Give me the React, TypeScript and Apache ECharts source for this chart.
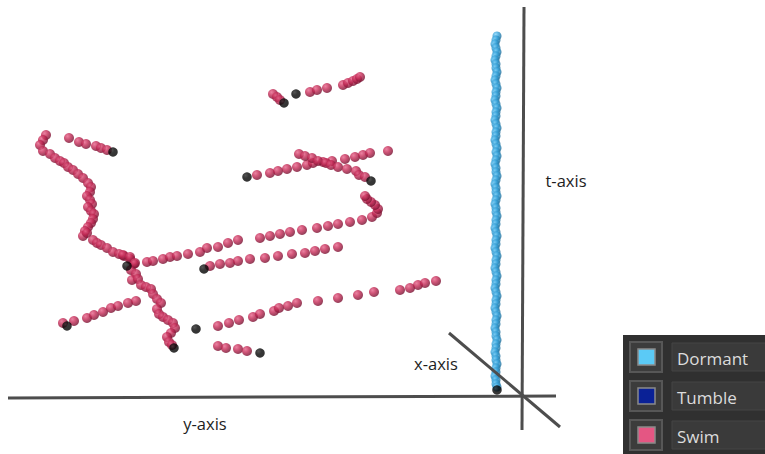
import React, { useEffect, useRef } from "react";
import * as echarts from "echarts";

// ---- data (pixel-space coordinates of the projected 3D scene) ----
const legendNames = ["Dormant", "Tumble", "Swim"];
const legendColors = ["#5bcaf6", "#0a2196", "#e45683"];

const axisNames = ["y-axis", "x-axis", "t-axis"];
const yAxisLine = [[8, 398], [556, 396]];
const tAxisLine = [[524, 7], [522, 430]];
const xAxisLine = [[449, 333], [560, 427]];

const startPoints = [
  [113, 152], [247, 177], [127, 266], [204, 269], [67, 326], [196, 329],
  [174, 348], [296, 94], [284, 103], [371, 181], [260, 353], [497, 390],
];

const swimTrackA = [[69, 138], [79, 142], [86, 144], [96, 146], [101, 148], [107, 150]];
const swimTrackB = [
  [46, 135], [43, 140], [40, 145], [43, 151], [50, 154], [55, 158], [60, 161], [64, 163],
  [68, 167], [73, 170], [78, 174], [83, 178], [88, 183], [91, 187], [90, 192], [87, 196],
  [90, 200], [92, 204], [88, 207], [91, 211], [94, 214], [93, 219], [91, 223], [88, 227],
  [85, 231], [83, 236], [87, 233], [93, 240], [97, 243], [101, 245], [107, 248], [113, 252],
  [119, 254], [124, 256], [130, 259], [134, 264], [131, 270], [136, 274], [132, 280],
  [138, 279], [141, 285], [146, 287], [151, 289], [153, 294], [157, 299], [161, 303],
  [157, 309], [159, 314], [163, 317], [168, 320], [173, 323], [175, 328], [171, 333],
  [167, 337], [169, 342], [172, 345],
];
const swimTrackC = [
  [123, 255], [130, 257], [135, 263], [147, 262], [153, 261], [163, 259], [170, 257],
  [177, 256], [188, 254], [200, 252], [207, 248], [218, 247], [228, 243], [238, 240],
  [260, 238], [270, 236], [280, 234], [290, 232], [302, 230], [317, 228], [328, 226],
  [338, 224], [350, 222], [362, 220], [372, 217], [377, 213], [378, 209], [375, 205],
  [371, 202], [367, 199], [365, 196],
];
const swimTrackD = [
  [210, 266], [220, 264], [230, 263], [238, 261], [250, 259], [265, 258], [278, 256],
  [292, 254], [305, 253], [315, 251], [325, 249], [338, 247],
];
const swimTrackE = [
  [63, 323], [74, 321], [87, 318], [94, 315], [103, 312], [111, 308], [118, 306],
  [128, 303], [136, 301],
];
const swimTrackF = [
  [218, 326], [229, 323], [239, 320], [253, 317], [260, 314], [274, 311], [279, 308],
  [288, 306], [297, 303], [318, 301], [338, 298], [358, 295], [374, 292], [400, 290],
  [410, 288], [418, 285], [425, 283], [436, 281],
];
const swimTrackG = [[218, 346], [226, 348], [238, 349], [247, 351]];
const swimTrackH = [
  [257, 175], [270, 173], [278, 171], [287, 169], [297, 167], [307, 165], [313, 163],
  [323, 162], [332, 161], [345, 159], [355, 157], [363, 155], [370, 153], [388, 151],
];
const swimTrackI = [
  [299, 154], [305, 156], [312, 158], [318, 161], [326, 163], [331, 165], [338, 167],
  [347, 169], [356, 171], [359, 175], [365, 177],
];
const swimTrackJ = [
  [273, 94], [277, 97], [280, 100], [310, 92], [317, 90], [327, 88], [343, 85],
  [348, 83], [353, 81], [357, 79], [360, 77],
];

const dormantPoints = [
  [497, 36], [496, 40], [495, 44], [496, 48], [497, 52], [496, 56], [495, 60], [496, 64],
  [496, 68], [497, 72], [496, 76], [495, 80], [496, 84], [497, 88], [496, 92], [496, 96],
  [495, 100], [496, 104], [497, 108], [496, 112], [496, 116], [495, 120], [496, 124],
  [497, 128], [496, 132], [496, 136], [495, 140], [496, 144], [497, 148], [496, 152],
  [497, 156], [496, 160], [495, 164], [496, 168], [496, 172], [497, 176], [496, 180],
  [495, 184], [496, 188], [496, 192], [497, 196], [496, 200], [495, 204], [496, 208],
  [496, 212], [497, 216], [496, 220], [496, 224], [495, 228], [496, 232], [497, 236],
  [496, 240], [496, 244], [495, 248], [496, 252], [497, 256], [496, 260], [496, 264],
  [495, 268], [496, 272], [497, 276], [496, 280], [496, 284], [495, 288], [496, 292],
  [497, 296], [496, 300], [496, 304], [495, 308], [496, 312], [497, 316], [496, 320],
  [496, 324], [495, 328], [496, 332], [496, 336], [497, 340], [496, 344], [496, 348],
  [495, 352], [496, 356], [496, 360], [497, 364], [496, 368], [496, 372], [495, 376],
  [496, 380], [496, 384], [497, 387],
];

const sphere = (light: string, mid: string, dark: string) => ({
  type: "radial",
  x: 0.35,
  y: 0.32,
  r: 0.7,
  colorStops: [
    { offset: 0, color: light },
    { offset: 0.45, color: mid },
    { offset: 1, color: dark },
  ],
});

export default function App() {
  const ref = useRef<HTMLDivElement>(null);
  useEffect(() => {
    if (!ref.current) return;
    const chart = echarts.init(ref.current, null, { renderer: "svg" });
    const swim = [
      ...swimTrackA, ...swimTrackB, ...swimTrackC, ...swimTrackD, ...swimTrackE,
      ...swimTrackF, ...swimTrackG, ...swimTrackH, ...swimTrackI, ...swimTrackJ,
    ];
    const lineStyle = { color: "#4d4d4d", width: 3 };
    const axisLineSeries = (data: number[][]) => ({
      type: "line",
      data,
      symbol: "none",
      lineStyle,
      z: 5,
      silent: true,
    });
    const rowY = [342, 381, 420];
    const legendGraphics: any[] = [
      { type: "rect", shape: { x: 623, y: 335, width: 150, height: 125 }, style: { fill: "#303030" } },
    ];
    legendNames.forEach((name, i) => {
      const y = rowY[i];
      legendGraphics.push(
        { type: "rect", shape: { x: 630, y, width: 32, height: 30 }, style: { fill: "#3c3c3c", stroke: "#575757", lineWidth: 2 } },
        { type: "rect", shape: { x: 638, y: y + 7, width: 17, height: 16 }, style: { fill: legendColors[i], stroke: "#8a8a8a", lineWidth: 1.5 } },
        { type: "rect", shape: { x: 672, y: y + 1, width: 100, height: 28 }, style: { fill: "#3a3a3a", stroke: "#454545", lineWidth: 1 } },
        { type: "text", x: 677, y: y + 16, style: { text: name, fill: "#dcdcdc", font: "17px 'Open Sans'", verticalAlign: "middle", textAlign: "left" } }
      );
    });
    const labelFont = "16.5px 'Open Sans'";
    chart.setOption({
      animation: false,
      backgroundColor: "#ffffff",
      grid: { left: 0, right: 0, top: 0, bottom: 0 },
      xAxis: { type: "value", min: 0, max: 765, show: false },
      yAxis: { type: "value", min: 0, max: 454, inverse: true, show: false },
      series: [
        {
          name: "Dormant",
          type: "scatter",
          data: dormantPoints,
          symbolSize: 9,
          itemStyle: { color: sphere("#7fd2fa", "#36a2da", "#1b6a96") },
          z: 2,
        },
        {
          name: "Swim",
          type: "scatter",
          data: swim,
          symbolSize: 10,
          itemStyle: { color: sphere("#e6648a", "#c42a56", "#760e2e") },
          z: 3,
        },
        {
          name: "Start",
          type: "scatter",
          data: startPoints,
          symbolSize: 9.5,
          itemStyle: { color: sphere("#2a2a2a", "#050505", "#000000") },
          z: 4,
        },
        axisLineSeries(yAxisLine),
        axisLineSeries(tAxisLine),
        axisLineSeries(xAxisLine),
      ],
      graphic: [
        { type: "text", x: 205, y: 423, style: { text: axisNames[0], fill: "#1e1e1e", font: labelFont, textAlign: "center", verticalAlign: "middle" } },
        { type: "text", x: 436, y: 363, style: { text: axisNames[1], fill: "#1e1e1e", font: labelFont, textAlign: "center", verticalAlign: "middle" } },
        { type: "text", x: 566, y: 180, style: { text: axisNames[2], fill: "#1e1e1e", font: labelFont, textAlign: "center", verticalAlign: "middle" } },
        ...legendGraphics,
      ],
    });
    return () => chart.dispose();
  }, []);
  return (
    <div
      ref={ref}
      style={{ position: "fixed", left: 0, top: 0, width: 765, height: 454 }}
    />
  );
}
